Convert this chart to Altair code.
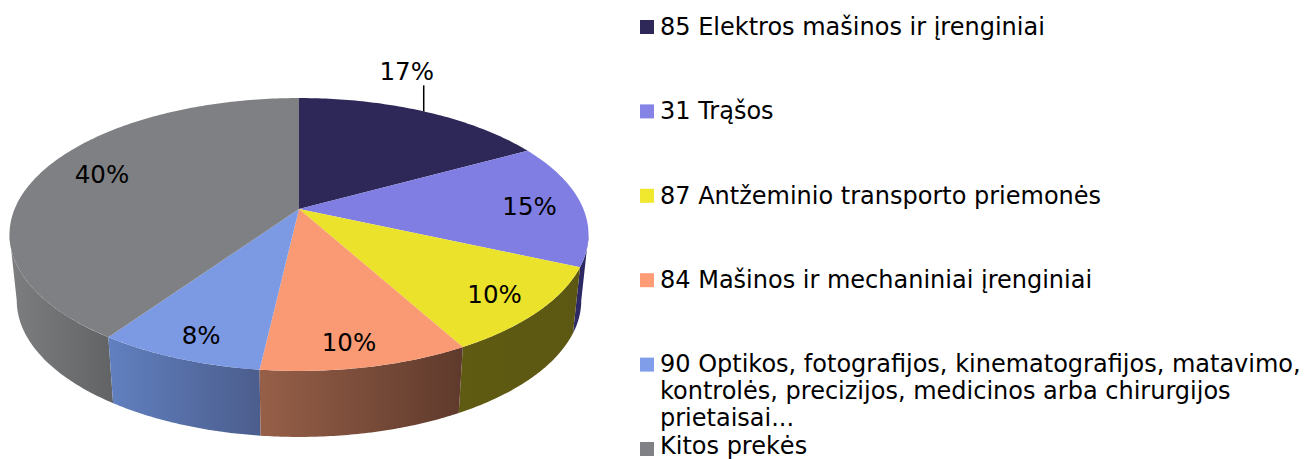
import math
import altair as alt
import pandas as pd

# ---- values ----
CATEGORIES = [
    "85 Elektros mašinos ir įrenginiai",
    "31 Trąšos",
    "87 Antžeminio transporto priemonės",
    "84 Mašinos ir mechaniniai įrenginiai",
    "90 Optikos, fotografijos, kinematografijos, matavimo,\nkontrolės, precizijos, medicinos arba chirurgijos\nprietaisai...",
    "Kitos prekės",
]
SHARES = [17.0, 14.7, 10.3, 9.8, 7.8, 40.4]
PCT_LABELS = ["17%", "15%", "10%", "10%", "8%", "40%"]

# ---- styles ----
TOP_COLORS = ["#2e2859", "#807ee2", "#ebe32b", "#fa9a74", "#7c9ae4", "#7f8083"]
LEGEND_COLORS = ["#2e2859", "#8583e6", "#f0e82f", "#fe9c76", "#7f9de8", "#808184"]
WALL_STOPS = [
    ("#2b2860", "#2b2860"),
    ("#2d2a68", "#2a2760"),
    ("#605b12", "#5c5712"),
    ("#965f48", "#5f3a2c"),
    ("#6180c0", "#4b5d8c"),
    ("#7d7e80", "#626365"),
]
FONT = "DejaVu Sans"

# ---- layout ----
W, H = 1295, 451
OX, OY = 8, 8
CX, CY = 299 - OX, 209 - OY
A, B, K = 284.4, 131.7, 0.1868
DEPTH, SHRINK = 66, 0.975
LABEL_R = [1.0, 0.82, 0.84, 0.87, 0.86, 0.76]
LABEL_DX = [-17, -1, -1, -7, 3, 1]
LABEL_DY = [-38, 3, 3, 1, 3, -4]
LEADER = 26
LEG_TOP, LEG_STEP, LINE_STEP = 27 - OY, 84.4, 27
ROW_LIFT = [0, 0, 0, 0, 1, 3]  # keeps the last legend rows apart and inside the page


def project(frac, r=1.0):
    """Pie position (fraction of turn, radius) → picture position, in tilted perspective."""
    t = 2 * math.pi * frac
    u, v = r * math.sin(t), r * math.cos(t)
    w = 1 + K * v
    return CX + A * u / w, CY - B * v / w


def bottom(p):
    return CX + (p[0] - CX) * SHRINK, p[1] + DEPTH


x_enc = lambda f="x": alt.X(f, type="quantitative", axis=None,
                            scale=alt.Scale(domain=[0, W], nice=False, zero=False))
y_enc = lambda f="y": alt.Y(f, type="quantitative", axis=None,
                            scale=alt.Scale(domain=[0, H], reverse=True, nice=False, zero=False))

total = sum(SHARES)
layers = []
cum = [0]
for s in SHARES:
    cum.append(cum[-1] + s / total)


def poly(points, fill):
    df = pd.DataFrame([{"x": p[0], "y": p[1], "i": i} for i, p in enumerate(points)])
    return alt.Chart(df).mark_line(fill=fill, stroke="transparent", strokeWidth=0).encode(
        x=x_enc(), y=y_enc(), order=alt.Order("i:Q")
    )


# side walls, from back to front; the silhouette meets the rim where v = -K
N = 60
edge = math.acos(-K) / (2 * math.pi)
for i in [1, 5, 2, 4, 3]:
    lo, hi = max(cum[i], edge), min(cum[i + 1], 1 - edge)
    if hi <= lo:
        continue
    fr = [lo + (hi - lo) * j / N for j in range(N + 1)]
    rim = [project(f) for f in fr]
    pts = rim + [bottom(p) for p in reversed(rim)]
    c0, c1 = WALL_STOPS[i]
    grad = alt.LinearGradient(
        gradient="linear", x1=0, y1=0, x2=1, y2=0,
        stops=[alt.GradientStop(offset=0, color=c0), alt.GradientStop(offset=1, color=c1)],
    )
    layers.append(poly(pts, grad))

# top faces
for i in range(len(SHARES)):
    n = max(6, int(SHARES[i] * 4))
    fr = [cum[i] + (cum[i + 1] - cum[i]) * j / n for j in range(n + 1)]
    layers.append(poly([(CX, CY)] + [project(f) for f in fr], TOP_COLORS[i]))

# percentage labels
lab_rows = []
for i, lab in enumerate(PCT_LABELS):
    x, y = project((cum[i] + cum[i + 1]) / 2, LABEL_R[i])
    if i == 0:
        leader = pd.DataFrame([{"x": x, "y": y, "y2": y - LEADER}])
        layers.append(alt.Chart(leader).mark_rule(color="#000000", strokeWidth=1.5).encode(
            x=x_enc(), y=y_enc(), y2="y2:Q"))
    lab_rows.append({"x": x + LABEL_DX[i], "y": y + LABEL_DY[i], "t": lab})
layers.append(alt.Chart(pd.DataFrame(lab_rows)).mark_text(
    font=FONT, fontSize=24.5, color="#000000", align="center", baseline="middle"
).encode(x=x_enc(), y=y_enc(), text="t:N"))

# legend
sq, txt = [], []
for i, cat in enumerate(CATEGORIES):
    yc = LEG_TOP + i * LEG_STEP
    sq.append({"x": 647 - OX, "y": yc, "c": LEGEND_COLORS[i]})
    for j, line in enumerate(cat.split("\n")):
        txt.append({"x": 660 - OX, "y": yc + 8 + j * LINE_STEP - ROW_LIFT[i], "t": line})
layers.append(alt.Chart(pd.DataFrame(sq)).mark_square(size=196, opacity=1).encode(
    x=x_enc(), y=y_enc(), color=alt.Color("c:N", scale=None)))
layers.append(alt.Chart(pd.DataFrame(txt)).mark_text(
    font=FONT, fontSize=24, color="#000000", align="left", baseline="alphabetic"
).encode(x=x_enc(), y=y_enc(), text="t:N"))

chart = alt.layer(*layers).properties(
    width=W, height=H, padding=0, autosize=alt.AutoSizeParams(type="none"),
    background="white",
).configure_view(stroke=None)
chart.save("out.html", embed_options={"renderer": "svg", "actions": False})
